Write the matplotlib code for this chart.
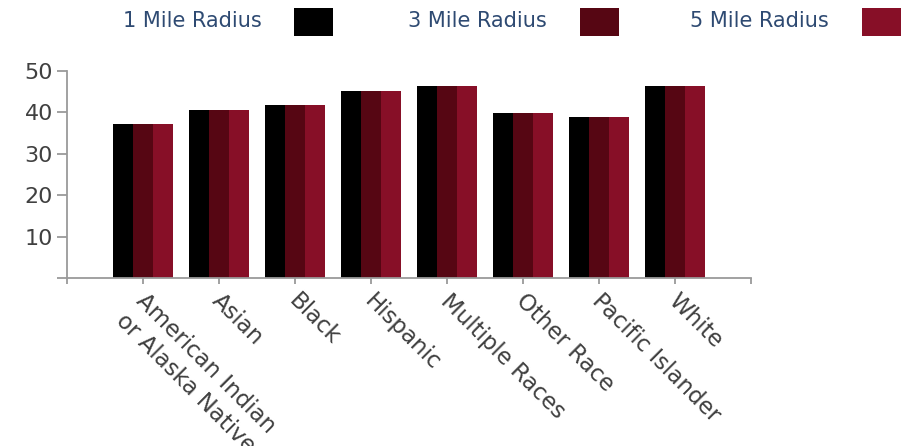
import matplotlib
matplotlib.use("Agg")
import matplotlib.pyplot as plt
import matplotlib.transforms as mtransforms
import numpy as np
from matplotlib.patches import Rectangle

categories = ["American Indian\nor Alaska Native", "Asian", "Black", "Hispanic",
              "Multiple Races", "Other Race", "Pacific Islander", "White"]
series_names = ["1 Mile Radius", "3 Mile Radius", "5 Mile Radius"]
radius_1 = [37.3, 40.6, 41.9, 45.1, 46.4, 39.8, 38.9, 46.4]
radius_3 = [37.3, 40.6, 41.9, 45.1, 46.4, 39.8, 38.9, 46.4]
radius_5 = [37.3, 40.6, 41.9, 45.1, 46.4, 39.8, 38.9, 46.4]
y_ticks = [10, 20, 30, 40, 50]
colors = ["#000000", "#560613", "#870f27"]

W, H = 917, 446
fig = plt.figure(figsize=(W / 100, H / 100), dpi=100)
ax = fig.add_axes([67 / W, (H - 278) / H, (751 - 67) / W, (278 - 71) / H])

x = np.arange(len(categories))
bw = 0.263
for i, (vals, c) in enumerate(zip([radius_1, radius_3, radius_5], colors)):
    ax.bar(x + (i - 1) * bw, vals, width=bw, color=c, edgecolor="none")

ax.set_xlim(-1, len(categories))
ax.set_ylim(0, 50)

axis_grey = "#9a9a9a"
text_grey = "#404040"
for s in ["top", "right"]:
    ax.spines[s].set_visible(False)
for s in ["left", "bottom"]:
    ax.spines[s].set_color(axis_grey)
    ax.spines[s].set_linewidth(1.3)

ax.set_yticks([0] + y_ticks)
ax.set_yticklabels([""] + [str(t) for t in y_ticks])
ax.tick_params(axis="y", length=7, width=1.3, color=axis_grey, pad=3,
               labelsize=16, labelcolor=text_grey)

ax.set_xticks(x)
ax.set_xticklabels(categories, rotation=-45, ha="left", va="top",
                   rotation_mode="anchor", multialignment="left")
ax.set_xticks([-1, len(categories)], minor=True)
ax.tick_params(axis="x", which="both", length=4, width=1.3, color=axis_grey,
               pad=5, labelsize=16.5, labelcolor=text_grey)
shift = mtransforms.ScaledTranslation(5 / 100, 1 / 100, fig.dpi_scale_trans)
for lbl in ax.get_xticklabels():
    lbl.set_linespacing(1.3)
    lbl.set_transform(lbl.get_transform() + shift)

# legend row along the top
legend_color = "#2e4a72"
text_x = [123, 408, 690]
swatch_x = [294, 580, 862]
for name, tx, sx, c in zip(series_names, text_x, swatch_x, colors):
    fig.text(tx / W, 1 - 21 / H, name, ha="left", va="center",
             fontsize=15, color=legend_color)
    fig.add_artist(Rectangle((sx / W, 1 - 36 / H), 39 / W, 28 / H,
                             transform=fig.transFigure, facecolor=c,
                             edgecolor="none"))

fig.savefig("out.png", dpi=100)
